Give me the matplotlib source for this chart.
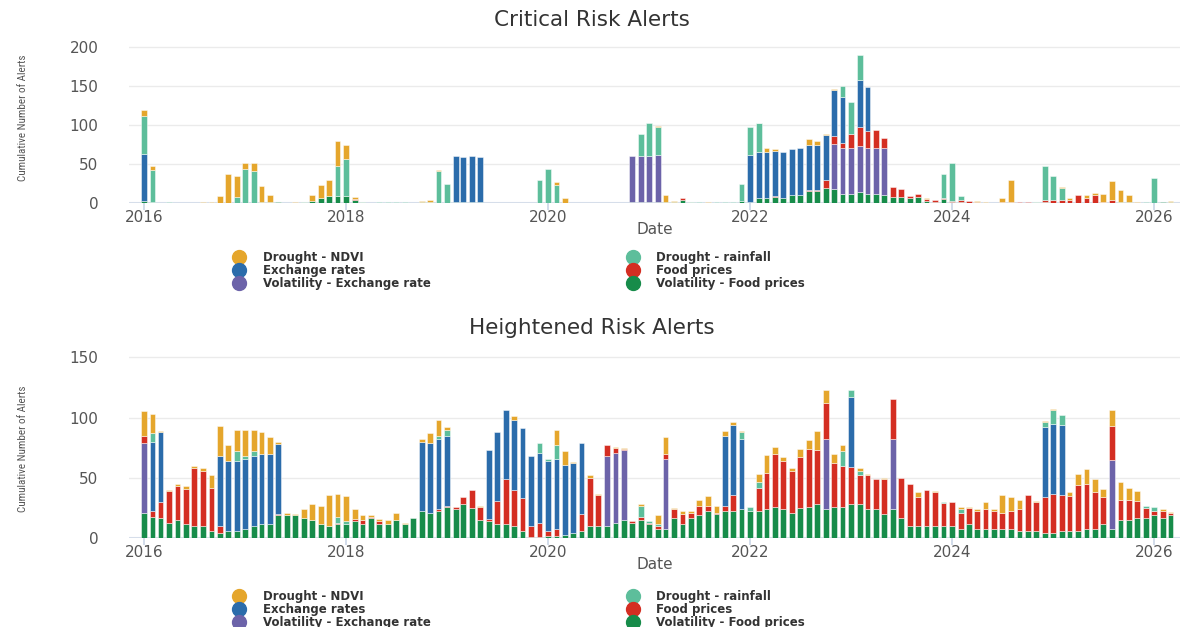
import numpy as np
import pandas as pd
import matplotlib
matplotlib.use("Agg")
import matplotlib.pyplot as plt
import matplotlib.dates as mdates
from matplotlib.lines import Line2D

# monthly alert counts, Jan 2016 - Mar 2026
dates = pd.date_range("2016-01-01", periods=123, freq="MS")

# Critical risk alerts
ndvi_crit = [8, 6, 0, 0, 0, 0, 0, 1, 1, 9, 37, 27,
             8, 10, 20, 10, 0, 0, 1, 0, 7, 16, 20, 32,
             18, 3, 0, 0, 0, 0, 0, 0, 0, 2, 2, 2,
             0, 0, 0, 0, 0, 0, 0, 0, 0, 0, 0, 0,
             0, 4, 7, 0, 0, 0, 0, 0, 0, 0, 0, 0,
             0, 2, 8, 1, 0, 1, 0, 1, 0, 0, 0, 0,
             0, 1, 5, 2, 0, 0, 0, 7, 4, 2, 1, 0,
             0, 0, 0, 0, 0, 0, 0, 0, 0, 2, 0, 0,
             0, 0, 0, 1, 1, 0, 5, 27, 0, 0, 0, 0,
             0, 1, 2, 0, 4, 3, 10, 24, 15, 9, 2, 0,
             0, 0, 1]
rain_crit = [48, 40, 0, 1, 0, 0, 0, 0, 0, 0, 0, 8,
             44, 41, 0, 0, 0, 0, 0, 1, 0, 0, 0, 39,
             47, 0, 1, 0, 1, 1, 1, 1, 0, 0, 0, 41,
             24, 0, 0, 0, 0, 0, 0, 0, 0, 0, 0, 29,
             44, 23, 0, 0, 0, 0, 0, 0, 0, 0, 0, 28,
             43, 36, 0, 0, 0, 0, 1, 0, 1, 1, 1, 22,
             37, 37, 0, 0, 0, 0, 0, 0, 0, 0, 0, 14,
             41, 32, 0, 0, 0, 0, 0, 0, 0, 0, 0, 30,
             49, 5, 0, 0, 0, 0, 0, 0, 0, 0, 0, 44,
             31, 16, 0, 0, 0, 0, 0, 0, 0, 0, 0, 1,
             32, 0, 0]
exch_crit = [60, 0, 0, 0, 0, 0, 0, 0, 0, 0, 0, 0,
             0, 0, 0, 0, 0, 0, 0, 0, 0, 0, 0, 0,
             0, 0, 0, 0, 0, 0, 0, 0, 0, 0, 0, 0,
             0, 59, 58, 59, 58, 0, 0, 0, 0, 0, 0, 0,
             0, 0, 0, 0, 0, 0, 0, 0, 0, 0, 0, 0,
             0, 0, 0, 0, 0, 0, 0, 0, 0, 0, 0, 0,
             59, 58, 58, 58, 58, 59, 59, 58, 58, 58, 59, 59,
             0, 59, 57, 0, 0, 0, 0, 0, 0, 0, 0, 0,
             0, 0, 0, 0, 0, 0, 0, 0, 0, 0, 0, 0,
             0, 0, 0, 0, 0, 0, 0, 0, 0, 0, 0, 0,
             0, 0, 0]
food_crit = [0, 0, 0, 0, 0, 0, 0, 0, 0, 0, 0, 0,
             0, 0, 0, 0, 0, 0, 0, 0, 0, 0, 0, 0,
             0, 1, 0, 0, 0, 0, 0, 0, 0, 0, 0, 0,
             0, 0, 0, 0, 0, 0, 0, 0, 0, 0, 0, 0,
             0, 0, 0, 0, 0, 0, 0, 0, 0, 0, 0, 0,
             0, 0, 0, 0, 2, 0, 0, 0, 0, 0, 0, 0,
             0, 0, 0, 1, 0, 0, 0, 2, 2, 9, 10, 7,
             18, 25, 21, 23, 13, 13, 10, 2, 4, 2, 2, 2,
             1, 2, 3, 2, 0, 0, 2, 2, 2, 2, 1, 3,
             4, 4, 4, 10, 6, 10, 2, 4, 0, 0, 0, 0,
             0, 0, 0]
volex_crit = [0, 0, 0, 0, 0, 0, 0, 0, 0, 0, 0, 0,
              0, 0, 0, 0, 0, 0, 0, 0, 0, 0, 0, 0,
              0, 0, 0, 0, 0, 0, 0, 0, 0, 0, 0, 0,
              0, 0, 0, 0, 0, 0, 0, 0, 0, 0, 0, 0,
              0, 0, 0, 0, 0, 0, 0, 0, 0, 0, 59, 59,
              59, 59, 0, 0, 0, 0, 0, 0, 0, 0, 0, 0,
              0, 0, 0, 0, 0, 0, 0, 0, 0, 0, 58, 58,
              58, 59, 59, 59, 59, 0, 0, 0, 0, 0, 0, 0,
              0, 0, 0, 0, 0, 0, 0, 0, 0, 0, 0, 0,
              0, 0, 0, 0, 0, 0, 0, 0, 0, 0, 0, 0,
              0, 0, 0]
volfood_crit = [3, 2, 0, 0, 0, 0, 0, 0, 0, 0, 0, 0,
                0, 0, 2, 1, 2, 0, 0, 1, 3, 7, 9, 9,
                9, 4, 1, 0, 0, 0, 0, 0, 0, 1, 2, 0,
                0, 1, 1, 1, 1, 0, 0, 0, 0, 0, 0, 0,
                0, 0, 0, 0, 0, 0, 0, 0, 0, 0, 1, 1,
                1, 2, 2, 2, 4, 1, 0, 0, 0, 0, 0, 3,
                2, 7, 7, 8, 7, 10, 11, 15, 15, 20, 18, 12,
                12, 14, 12, 12, 11, 8, 8, 7, 8, 3, 2, 5,
                2, 2, 0, 0, 0, 0, 0, 0, 0, 0, 1, 1,
                0, 0, 0, 0, 0, 0, 0, 0, 2, 2, 0, 0,
                0, 2, 2]

# Heightened risk alerts
ndvi_high = [20, 16, 1, 1, 2, 2, 2, 2, 10, 25, 13, 18,
             22, 18, 18, 14, 2, 2, 1, 7, 13, 15, 26, 19,
             21, 8, 4, 1, 2, 3, 6, 1, 0, 2, 8, 13,
             2, 0, 0, 0, 1, 0, 0, 0, 3, 0, 0, 0,
             0, 13, 11, 1, 0, 2, 1, 0, 1, 1, 0, 1,
             0, 7, 14, 1, 3, 2, 5, 8, 6, 4, 2, 1,
             0, 6, 15, 6, 3, 2, 7, 7, 16, 11, 8, 5,
             0, 2, 1, 0, 1, 0, 0, 0, 4, 0, 1, 0,
             0, 2, 1, 1, 6, 1, 15, 11, 8, 0, 1, 1,
             1, 0, 3, 9, 12, 11, 7, 13, 15, 10, 8, 0,
             0, 1, 1]
rain_high = [0, 7, 0, 0, 0, 0, 0, 0, 0, 0, 0, 8,
             2, 4, 0, 0, 0, 0, 0, 0, 0, 0, 0, 5,
             2, 0, 0, 0, 0, 0, 0, 0, 0, 0, 0, 3,
             5, 0, 0, 0, 0, 0, 0, 0, 0, 0, 0, 8,
             2, 11, 0, 0, 0, 0, 0, 0, 0, 0, 0, 9,
             1, 2, 0, 0, 0, 0, 0, 0, 0, 0, 0, 6,
             3, 5, 0, 0, 0, 0, 0, 0, 0, 0, 0, 12,
             6, 4, 0, 0, 0, 0, 0, 0, 0, 0, 0, 1,
             0, 3, 0, 0, 0, 0, 0, 0, 0, 0, 0, 4,
             11, 8, 0, 0, 0, 0, 0, 0, 0, 0, 0, 2,
             3, 0, 0]
exch_high = [0, 57, 58, 0, 0, 0, 0, 0, 0, 58, 58, 58,
             58, 58, 58, 58, 58, 0, 0, 0, 0, 0, 0, 0,
             0, 0, 0, 0, 0, 0, 0, 0, 0, 57, 58, 58,
             58, 0, 0, 0, 0, 57, 57, 57, 58, 58, 58, 58,
             58, 58, 58, 58, 59, 0, 0, 0, 0, 0, 0, 0,
             0, 0, 0, 0, 0, 0, 0, 0, 0, 58, 58, 58,
             0, 0, 0, 0, 0, 0, 0, 0, 0, 0, 0, 0,
             58, 0, 0, 0, 0, 0, 0, 0, 0, 0, 0, 0,
             0, 0, 0, 0, 0, 0, 0, 0, 0, 0, 0, 58,
             58, 58, 0, 0, 0, 0, 0, 0, 0, 0, 0, 0,
             0, 0, 0]
food_high = [6, 5, 13, 26, 28, 29, 48, 46, 36, 6, 0, 0,
             0, 0, 0, 0, 1, 0, 0, 0, 0, 0, 0, 1,
             0, 2, 3, 1, 2, 0, 0, 0, 0, 0, 0, 1,
             1, 2, 6, 15, 11, 2, 19, 37, 30, 27, 9, 12,
             4, 6, 0, 0, 14, 40, 26, 9, 4, 1, 1, 3,
             1, 2, 4, 7, 8, 4, 8, 4, 1, 4, 13, 0,
             0, 19, 30, 44, 40, 35, 42, 48, 45, 30, 36, 34,
             31, 24, 28, 25, 29, 33, 33, 35, 24, 30, 28, 19,
             20, 13, 13, 15, 16, 15, 13, 15, 18, 30, 24, 30,
             33, 30, 29, 38, 37, 30, 22, 28, 17, 17, 14, 8,
             4, 6, 2]
volex_high = [58, 0, 0, 0, 0, 0, 0, 0, 0, 0, 0, 0,
              0, 0, 0, 0, 0, 0, 0, 0, 0, 0, 0, 0,
              0, 0, 0, 0, 0, 0, 0, 0, 0, 0, 0, 0,
              0, 0, 0, 0, 0, 0, 0, 0, 0, 0, 0, 0,
              0, 0, 0, 0, 0, 0, 0, 58, 58, 58, 0, 0,
              0, 0, 58, 0, 0, 0, 0, 0, 0, 0, 0, 0,
              0, 0, 0, 0, 0, 0, 0, 0, 0, 58, 0, 0,
              0, 0, 0, 0, 0, 58, 0, 0, 0, 0, 0, 0,
              0, 0, 0, 0, 0, 0, 0, 0, 0, 0, 0, 0,
              0, 0, 0, 0, 0, 0, 0, 57, 0, 0, 0, 0,
              0, 0, 0]
volfood_high = [21, 18, 17, 13, 15, 12, 10, 10, 6, 4, 6, 6,
                8, 10, 12, 12, 19, 19, 19, 17, 15, 12, 10, 12,
                12, 14, 12, 17, 12, 12, 15, 12, 17, 23, 21, 23,
                26, 24, 28, 25, 15, 14, 12, 12, 10, 6, 1, 1,
                2, 2, 3, 4, 6, 10, 10, 10, 13, 15, 13, 15,
                12, 8, 8, 17, 12, 17, 19, 23, 20, 23, 23, 24,
                23, 23, 24, 26, 24, 21, 25, 26, 28, 24, 26, 26,
                28, 28, 24, 24, 20, 24, 17, 10, 10, 10, 10, 10,
                10, 8, 12, 8, 8, 8, 8, 8, 6, 6, 6, 4,
                4, 6, 6, 6, 8, 8, 12, 8, 15, 15, 17, 17,
                19, 17, 19]

labels = ["Drought - NDVI", "Drought - rainfall", "Exchange rates",
          "Food prices", "Volatility - Exchange rate", "Volatility - Food prices"]
colors = {"Drought - NDVI": "#E5A62C", "Drought - rainfall": "#5DBE9B",
          "Exchange rates": "#2B6CAB", "Food prices": "#D42E22",
          "Volatility - Exchange rate": "#6C63A9", "Volatility - Food prices": "#178C4A"}

# stacking order bottom -> top
stack_order = ["Volatility - Food prices", "Volatility - Exchange rate", "Food prices",
               "Exchange rates", "Drought - rainfall", "Drought - NDVI"]


def draw_stack(ax, data):
    bottom = np.zeros(len(dates))
    for name in stack_order:
        vals = np.array(data[name], dtype=float)
        keep = vals > 0
        ax.bar(dates[keep], vals[keep], width=21, bottom=bottom[keep],
               color=colors[name], edgecolor=(1, 1, 1, 0.55), linewidth=0.6, zorder=2)
        bottom += vals


def style_axis(ax, ymax, yticks):
    ax.set_ylim(0, ymax)
    ax.set_yticks(yticks)
    ax.set_xlim(pd.Timestamp("2015-11-08"), pd.Timestamp("2026-04-06"))
    ax.xaxis.set_major_locator(mdates.YearLocator(2))
    ax.xaxis.set_major_formatter(mdates.DateFormatter("%Y"))
    ax.yaxis.grid(True, color="#EBEBEB", linewidth=1)
    ax.set_axisbelow(True)
    for s in ax.spines.values():
        s.set_visible(False)
    ax.axhline(0, color="#D6DEEA", linewidth=1.5, zorder=1)
    ax.tick_params(axis="y", length=0, pad=22, labelsize=11, labelcolor="#555555")
    ax.tick_params(axis="x", length=5, width=1.2, color="#C9D5E6", pad=0,
                   labelsize=11, labelcolor="#555555")
    ax.set_xlabel("Date", fontsize=11, color="#555555", labelpad=-2)


fig = plt.figure(figsize=(11.84, 6.27), dpi=100)
ax1 = fig.add_axes([0.109, 0.676, 0.888, 0.254])
ax2 = fig.add_axes([0.109, 0.1415, 0.888, 0.2985])

crit = dict(zip(labels, [ndvi_crit, rain_crit, exch_crit, food_crit, volex_crit, volfood_crit]))
high = dict(zip(labels, [ndvi_high, rain_high, exch_high, food_high, volex_high, volfood_high]))

draw_stack(ax1, crit)
draw_stack(ax2, high)
style_axis(ax1, 203.8, [0, 50, 100, 150, 200])
style_axis(ax2, 155, [0, 50, 100, 150])

fig.text(0.5, 0.968, "Critical Risk Alerts", ha="center", va="center", fontsize=15.5, color="#333333")
fig.text(0.5, 0.477, "Heightened Risk Alerts", ha="center", va="center", fontsize=15.5, color="#333333")

ylab_font = ["Roboto Condensed", "Liberation Sans Narrow", "DejaVu Sans"]
fig.text(0.0195, 0.812, "Cumulative Number of Alerts", rotation=90, ha="center", va="center",
         fontsize=8, family=ylab_font, color="#555555")
fig.text(0.0195, 0.284, "Cumulative Number of Alerts", rotation=90, ha="center", va="center",
         fontsize=8, family=ylab_font, color="#555555")

# legend: rows NDVI/rainfall, Exchange/Food, Vol ex/Vol food
legend_order = ["Drought - NDVI", "Exchange rates", "Volatility - Exchange rate",
                "Drought - rainfall", "Food prices", "Volatility - Food prices"]
handles = [Line2D([], [], marker="o", linestyle="", markersize=10, color=colors[n])
           for n in legend_order]
for ax, ytop in [(ax1, 1 - 245 / 627), (ax2, 1 - 584 / 627)]:
    ax.legend(handles, legend_order, ncol=2, loc="upper left",
              bbox_to_anchor=(224 / 1184, ytop), bbox_transform=fig.transFigure,
              frameon=False, prop={"weight": "bold", "size": 8.5},
              labelspacing=0.0, handletextpad=1.2, columnspacing=16.3,
              borderpad=0, handlelength=1.6, handleheight=0.5, labelcolor="#333333")

fig.savefig("out.png", dpi=100)
